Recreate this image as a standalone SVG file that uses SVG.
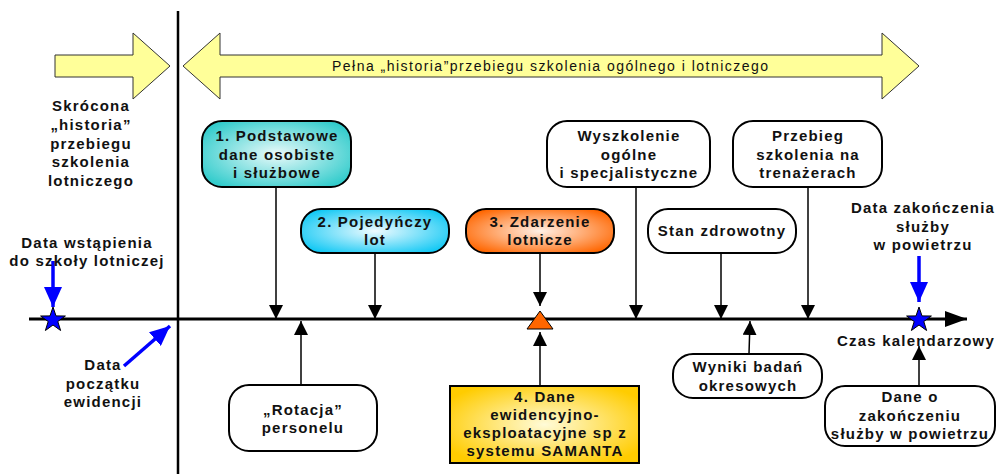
<svg xmlns="http://www.w3.org/2000/svg" width="997" height="474" viewBox="0 0 997 474">
<style>
.t{font-family:"Liberation Sans",Arial,sans-serif;font-weight:bold;font-size:15px;letter-spacing:1.2px;fill:#111;text-anchor:middle}
.nd{stroke:#000;stroke-width:2}
.w{fill:#fff}
.c{stroke:#000;stroke-width:1.5;fill:none;marker-end:url(#ah)}
.b{stroke:#0000ff;stroke-width:3.5;fill:none;marker-end:url(#bh)}
.ya{fill:#ffff99;stroke:#333;stroke-width:1}
.star{fill:#0000ff;stroke:#000;stroke-width:1}
</style>
<defs>
<marker id="ah" markerUnits="userSpaceOnUse" markerWidth="14" markerHeight="16" refX="14" refY="7" orient="auto"><path d="M0,0 L14,7 L0,14 z" fill="#000"/></marker>
<marker id="bh" markerUnits="userSpaceOnUse" markerWidth="20" markerHeight="18" refX="20" refY="9" orient="auto"><path d="M0,0 L20,9 L0,18 z" fill="#0000ff"/></marker>
<marker id="th" markerUnits="userSpaceOnUse" markerWidth="24" markerHeight="16" refX="22" refY="8" orient="auto"><path d="M0,0 L22,8 L0,16 z" fill="#000"/></marker>
<radialGradient id="g1" cx="50%" cy="50%" r="60%"><stop offset="0" stop-color="#eafafa"/><stop offset="1" stop-color="#33cccc"/></radialGradient>
<radialGradient id="g2" cx="50%" cy="50%" r="60%"><stop offset="0" stop-color="#f0fbff"/><stop offset="1" stop-color="#11c8f4"/></radialGradient>
<radialGradient id="g3" cx="50%" cy="50%" r="60%"><stop offset="0" stop-color="#fff0e6"/><stop offset="1" stop-color="#ff6600"/></radialGradient>
<radialGradient id="g4" cx="50%" cy="50%" r="60%"><stop offset="0" stop-color="#fffbd8"/><stop offset="1" stop-color="#ffcc00"/></radialGradient>
<path id="st" d="M0,-13 L3,-4.1 L12.4,-4 L4.8,1.5 L7.6,10.5 L0,5 L-7.6,10.5 L-4.8,1.5 L-12.4,-4 L-3,-4.1 z"/>
</defs>

<g id="bands">
<polygon class="ya" points="55,55 133,55 133,33 170,66 133,99 133,77 55,77"/>
<polygon class="ya" points="183,66 220,33 220,55 882,55 882,33 919,66 882,99 882,77 220,77 220,99"/>
<text x="550" y="71" style="font-family:'Liberation Sans',Arial,sans-serif;font-size:14px;fill:#111;text-anchor:middle" textLength="436" lengthAdjust="spacing">Pełna „historia”przebiegu szkolenia ogólnego i lotniczego</text>
</g>

<g id="axes">
<line x1="178" y1="11" x2="178" y2="474" stroke="#000" stroke-width="2.5"/>
<line x1="29" y1="319" x2="967" y2="319" stroke="#000" stroke-width="3" marker-end="url(#th)"/>
</g>

<g id="connectors">
<line class="c" x1="276" y1="187" x2="276" y2="319"/>
<line class="c" x1="375" y1="253" x2="375" y2="319"/>
<line class="c" x1="540" y1="253" x2="540" y2="306"/>
<line class="c" x1="636" y1="187" x2="636" y2="319"/>
<line class="c" x1="721" y1="253" x2="721" y2="319"/>
<line class="c" x1="808" y1="187" x2="808" y2="319"/>
<line class="c" x1="301" y1="385" x2="301" y2="321"/>
<line class="c" x1="540" y1="386" x2="540" y2="332"/>
<line class="c" x1="749" y1="354" x2="750" y2="321"/>
<line class="c" x1="919" y1="386" x2="919" y2="346"/>
<line class="b" x1="53" y1="261" x2="53" y2="307"/>
<line class="b" x1="124" y1="366" x2="170" y2="326"/>
<line class="b" x1="919" y1="256" x2="919" y2="302"/>
</g>

<g id="markers">
<use href="#st" class="star" x="53" y="320"/>
<use href="#st" class="star" x="919" y="320"/>
<polygon points="540,311 553,329 527,329" fill="#ff6600" stroke="#000" stroke-width="1"/>
</g>

<g id="label-skrocona">
<text class="t" x="91" y="111">Skrócona</text>
<text class="t" x="91" y="130">„historia”</text>
<text class="t" x="91" y="149">przebiegu</text>
<text class="t" x="91" y="167">szkolenia</text>
<text class="t" x="91" y="186">lotniczego</text>
</g>

<g id="label-wstapienia">
<text class="t" x="87" y="248">Data wstąpienia</text>
<text class="t" x="87" y="266">do szkoły lotniczej</text>
</g>

<g id="label-poczatku">
<text class="t" x="103" y="370">Data</text>
<text class="t" x="103" y="389">początku</text>
<text class="t" x="103" y="407">ewidencji</text>
</g>

<g id="label-zakonczenia">
<text class="t" x="923" y="213">Data zakończenia</text>
<text class="t" x="923" y="232">służby</text>
<text class="t" x="923" y="250">w powietrzu</text>
</g>

<g id="label-czas">
<text class="t" x="916" y="346">Czas kalendarzowy</text>
</g>

<g id="node1">
<rect class="nd" x="202" y="121" width="149" height="66" rx="20" fill="url(#g1)"/>
<text class="t" x="277" y="141">1. Podstawowe</text>
<text class="t" x="277" y="160">dane osobiste</text>
<text class="t" x="277" y="178">i służbowe</text>
</g>

<g id="node2">
<rect class="nd" x="301" y="209" width="148" height="44" rx="20" fill="url(#g2)"/>
<text class="t" x="375" y="227">2. Pojedyńczy</text>
<text class="t" x="375" y="245">lot</text>
</g>

<g id="node3">
<rect class="nd" x="466" y="209" width="148" height="44" rx="20" fill="url(#g3)"/>
<text class="t" x="540" y="227">3. Zdarzenie</text>
<text class="t" x="540" y="245">lotnicze</text>
</g>

<g id="node4">
<rect class="nd" x="450" y="386" width="189" height="77" fill="url(#g4)"/>
<text class="t" x="545" y="402">4. Dane</text>
<text class="t" x="545" y="420">ewidencyjno-</text>
<text class="t" x="545" y="438">eksploatacyjne sp z</text>
<text class="t" x="545" y="456">systemu SAMANTA</text>
</g>

<g id="node-wyszkolenie">
<rect class="nd w" x="547" y="121" width="163" height="66" rx="20"/>
<text class="t" x="629" y="141">Wyszkolenie</text>
<text class="t" x="629" y="160">ogólne</text>
<text class="t" x="629" y="178">i specjalistyczne</text>
</g>

<g id="node-przebieg">
<rect class="nd w" x="733" y="121" width="149" height="66" rx="20"/>
<text class="t" x="808" y="141">Przebieg</text>
<text class="t" x="808" y="160">szkolenia na</text>
<text class="t" x="808" y="178">trenażerach</text>
</g>

<g id="node-stan">
<rect class="nd w" x="648" y="209" width="148" height="44" rx="20"/>
<text class="t" x="722" y="236">Stan zdrowotny</text>
</g>

<g id="node-rotacja">
<rect class="nd w" x="229" y="385" width="148" height="66" rx="20"/>
<text class="t" x="303" y="415">„Rotacja”</text>
<text class="t" x="303" y="433">personelu</text>
</g>

<g id="node-wyniki">
<rect class="nd w" x="673" y="354" width="149" height="44" rx="20"/>
<text class="t" x="748" y="372">Wyniki badań</text>
<text class="t" x="748" y="391">okresowych</text>
</g>

<g id="node-daneo">
<rect class="nd w" x="825" y="386" width="170" height="60" rx="20"/>
<text class="t" x="910" y="402">Dane o</text>
<text class="t" x="910" y="421">zakończeniu</text>
<text class="t" x="910" y="439">służby w powietrzu</text>
</g>
</svg>
